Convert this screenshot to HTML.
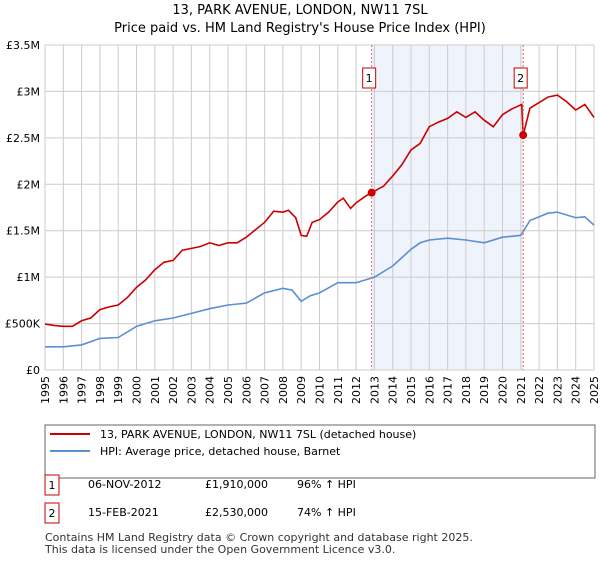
<!DOCTYPE html>
<html><head><meta charset="utf-8"><style>
body{margin:0;background:#fff;font-family:"Liberation Sans","DejaVu Sans",sans-serif;}
svg text{font-family:"DejaVu Sans","Liberation Sans",sans-serif;}
</style></head><body>
<svg width="600" height="560" xmlns="http://www.w3.org/2000/svg">
<text x="300" y="14" text-anchor="middle" font-size="13">13, PARK AVENUE, LONDON, NW11 7SL</text>
<text x="300" y="32" text-anchor="middle" font-size="13">Price paid vs. HM Land Registry's House Price Index (HPI)</text>
<g id="plot"></g>
<rect x="45" y="425" width="550" height="53" fill="#fff" stroke="#666"/>
<line x1="50" y1="434" x2="90" y2="434" stroke="#cc0000" stroke-width="2"/>
<text x="100" y="438" font-size="11">13, PARK AVENUE, LONDON, NW11 7SL (detached house)</text>
<line x1="50" y1="451" x2="90" y2="451" stroke="#5b8fd4" stroke-width="2"/>
<text x="100" y="455" font-size="11">HPI: Average price, detached house, Barnet</text>
<rect x="45" y="475" width="14" height="20" fill="#fff" stroke="#cc0000"/>
<text x="52" y="489" font-size="11" text-anchor="middle">1</text>
<text x="88" y="488" font-size="11">06-NOV-2012</text>
<text x="205" y="488" font-size="11">£1,910,000</text>
<text x="297" y="488" font-size="11">96% ↑ HPI</text>
<rect x="45" y="503" width="14" height="20" fill="#fff" stroke="#cc0000"/>
<text x="52" y="517" font-size="11" text-anchor="middle">2</text>
<text x="88" y="516" font-size="11">15-FEB-2021</text>
<text x="205" y="516" font-size="11">£2,530,000</text>
<text x="297" y="516" font-size="11">74% ↑ HPI</text>
<text x="45" y="541" font-size="11" fill="#333">Contains HM Land Registry data © Crown copyright and database right 2025.</text>
<text x="45" y="553" font-size="11" fill="#333">This data is licensed under the Open Government Licence v3.0.</text>
</svg>
<script>
const redYears=[1995,1995.5,1996,1996.5,1997,1997.5,1998,1998.5,1999,1999.5,2000,2000.5,2001,2001.5,2002,2002.5,2003,2003.5,2004,2004.5,2005,2005.5,2006,2006.5,2007,2007.5,2008,2008.3,2008.7,2009,2009.3,2009.6,2010,2010.5,2011,2011.3,2011.7,2012,2012.5,2012.85,2013.5,2014,2014.5,2015,2015.5,2016,2016.5,2017,2017.5,2018,2018.5,2019,2019.5,2020,2020.5,2021.05,2021.13,2021.5,2022,2022.5,2023,2023.5,2024,2024.5,2025];
const redValues=[0.495,0.48,0.47,0.47,0.53,0.56,0.65,0.68,0.70,0.78,0.89,0.97,1.08,1.16,1.18,1.29,1.31,1.33,1.37,1.34,1.37,1.37,1.43,1.51,1.59,1.71,1.70,1.72,1.64,1.45,1.44,1.59,1.62,1.70,1.81,1.85,1.74,1.80,1.87,1.91,1.98,2.09,2.21,2.37,2.44,2.62,2.67,2.71,2.78,2.72,2.78,2.69,2.62,2.75,2.81,2.86,2.53,2.82,2.88,2.94,2.96,2.89,2.80,2.86,2.72];
const blueYears=[1995,1996,1997,1998,1999,2000,2001,2002,2003,2004,2005,2006,2007,2008,2008.5,2009,2009.5,2010,2011,2012,2013,2014,2015,2015.5,2016,2017,2018,2019,2020,2021,2021.5,2022.5,2023,2024,2024.5,2025];
const blueValues=[0.25,0.25,0.27,0.34,0.35,0.47,0.53,0.56,0.61,0.66,0.70,0.72,0.83,0.88,0.86,0.74,0.80,0.83,0.94,0.94,1.0,1.12,1.30,1.37,1.40,1.42,1.40,1.37,1.43,1.45,1.61,1.69,1.70,1.64,1.65,1.56];
const yTicks=[0,0.5,1,1.5,2,2.5,3,3.5];
const yTickLabels=["£0","£500K","£1M","£1.5M","£2M","£2.5M","£3M","£3.5M"];
const sales=[{t:2012.85,v:1.91,n:"1"},{t:2021.13,v:2.53,n:"2"}];
const NS="http://www.w3.org/2000/svg";
const L=45,R=594,T=45,B=370;
const X=t=>L+(t-1995)/30*(R-L), Y=v=>B-v/3.5*(B-T);
const g=document.getElementById('plot');
function mk(tag,a){const e=document.createElementNS(NS,tag);for(const k in a)e.setAttribute(k,a[k]);g.appendChild(e);return e;}
const bg=mk('rect',{x:X(sales[0].t),y:T,width:X(sales[1].t)-X(sales[0].t),height:B-T,fill:'#eef3fc'});


for(let yr=1995;yr<=2025;yr++){const l=mk('line',{x1:X(yr),x2:X(yr),y1:T,y2:B,stroke:'#ccc'});


const tx=X(yr)+4,ty=376;
const t=mk('text',{x:tx,y:ty,'font-size':11,'text-anchor':'end',transform:'rotate(-90 '+tx+' '+ty+')'});t.textContent=yr;

}
yTicks.forEach((v,i)=>{const l=mk('line',{x1:L,x2:R,y1:Y(v),y2:Y(v),stroke:'#ccc'});


const t=mk('text',{x:40,y:Y(v)+4,'font-size':11,'text-anchor':'end'});t.textContent=yTickLabels[i];

});
function line(ys,vs,c,name){const p=mk('polyline',{points:ys.map((t,i)=>X(t)+','+Y(vs[i])).join(' '),fill:'none',stroke:c,'stroke-width':1.6});

}
line(blueYears,blueValues,'#5b8fd4','hpi-line');
line(redYears,redValues,'#cc0000','property-line');
sales.forEach(s=>{const l=mk('line',{x1:X(s.t),x2:X(s.t),y1:T,y2:B,stroke:'#e06666','stroke-dasharray':'2,2'});


const r=mk('rect',{x:X(s.t)-9,y:68,width:13,height:20,fill:'#fff',stroke:'#cc0000'});


const t=mk('text',{x:X(s.t)-2.5,y:82,'font-size':11,'text-anchor':'middle'});t.textContent=s.n;
const c=mk('circle',{cx:X(s.t),cy:Y(s.v),r:4,fill:'#cc0000'});

});
</script>
</body></html>
